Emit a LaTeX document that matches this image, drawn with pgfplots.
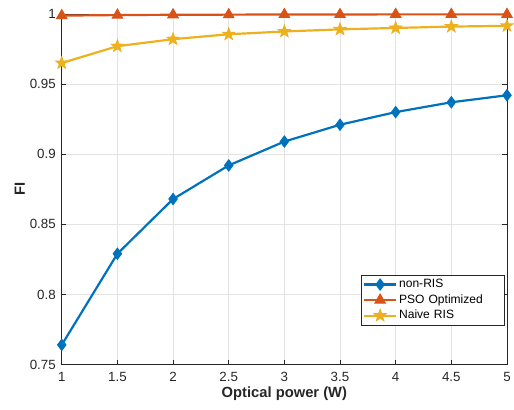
\documentclass[border=0pt]{standalone}
\usepackage{fontspec}
\setmainfont{Liberation Sans}
\usepackage{pgfplots}
\pgfplotsset{compat=1.18}
\definecolor{mblue}{rgb}{0,0.447,0.741}
\definecolor{morange}{rgb}{0.85,0.325,0.098}
\definecolor{myellow}{rgb}{0.929,0.694,0.125}
\definecolor{axgray}{rgb}{0.15,0.15,0.15}
\pgfdeclareplotmark{fstar}{%
  \pgfpathmoveto{\pgfqpointpolar{90}{\pgfplotmarksize}}%
  \pgfpathlineto{\pgfqpointpolar{126}{0.40\pgfplotmarksize}}%
  \pgfpathlineto{\pgfqpointpolar{162}{\pgfplotmarksize}}%
  \pgfpathlineto{\pgfqpointpolar{198}{0.40\pgfplotmarksize}}%
  \pgfpathlineto{\pgfqpointpolar{234}{\pgfplotmarksize}}%
  \pgfpathlineto{\pgfqpointpolar{270}{0.40\pgfplotmarksize}}%
  \pgfpathlineto{\pgfqpointpolar{306}{\pgfplotmarksize}}%
  \pgfpathlineto{\pgfqpointpolar{342}{0.40\pgfplotmarksize}}%
  \pgfpathlineto{\pgfqpointpolar{18}{\pgfplotmarksize}}%
  \pgfpathlineto{\pgfqpointpolar{54}{0.40\pgfplotmarksize}}%
  \pgfpathclose
  \pgfusepathqfillstroke}
\begin{document}
\begin{tikzpicture}
\begin{axis}[
  scale only axis,
  width=447pt, height=352pt,
  xmin=1, xmax=5, ymin=0.75, ymax=1,
  xtick={1,1.5,...,5},
  ytick={0.75,0.8,0.85,0.9,0.95,1},
  yticklabels={0.75,0.8,0.85,0.9,0.95,1},
  xticklabels={1,1.5,2,2.5,3,3.5,4,4.5,5},
  tick align=inside,
  grid=major,
  grid style={color=gray!22, line width=0.6pt},
  axis line style={color=axgray, line width=0.6pt},
  tick style={color=axgray, line width=0.6pt},
  major tick length=4.5pt,
  tick label style={font=\fontsize{13.4}{15}\selectfont, color=axgray},
  xticklabel style={yshift=-4pt},
  yticklabel style={xshift=-2.5pt},
  /pgf/number format/assume math mode=true,
  xlabel={\textbf{Optical power (W)}},
  ylabel={\textbf{FI}},
  label style={font=\fontsize{14.8}{17}\selectfont, color=axgray},
  xlabel style={yshift=2pt},
  ylabel style={yshift=-2pt},
  legend style={at={(0.9955,0.111)}, anchor=south east,
    draw=axgray, line width=0.5pt, inner xsep=2pt, inner ysep=2pt, row sep=0pt,
    nodes={font=\fontsize{12.1}{14}\selectfont, text height=9pt, text depth=2.6pt},
    /tikz/every even column/.append style={text width=102pt, align=left, inner xsep=2pt}},
  legend cell align=left,
  legend image code/.code={
    \draw[mark repeat=2,mark phase=2] plot coordinates {(0pt,0pt) (16pt,0pt) (32pt,0pt)};
  },
]
\addplot[color=mblue, line width=2.2pt, mark=diamond*, mark size=5.6pt, mark options={solid, fill=mblue, line width=1pt}]
 coordinates {(1,0.764) (1.5,0.829) (2,0.868) (2.5,0.892) (3,0.909) (3.5,0.921) (4,0.930) (4.5,0.937) (5,0.942)};
\addlegendentry{non-RIS}
\addplot[color=morange, line width=2.2pt, mark=triangle*, mark size=6pt, mark options={solid, fill=morange, line width=1pt}]
 coordinates {(1,0.9988) (1.5,0.9992) (2,0.9994) (2.5,0.9995) (3,0.9996) (3.5,0.9996) (4,0.9997) (4.5,0.9997) (5,0.9997)};
\addlegendentry{PSO Optimized}
\addplot[color=myellow, line width=2.2pt, mark=fstar, mark size=6.5pt, mark options={solid, fill=myellow, line width=0.8pt}]
 coordinates {(1,0.9650) (1.5,0.9770) (2,0.9820) (2.5,0.9855) (3,0.9875) (3.5,0.9890) (4,0.9900) (4.5,0.9910) (5,0.9915)};
\addlegendentry{Naive RIS}
\end{axis}
\path ([shift={(-62pt,-45pt)}]current axis.south west) rectangle ([shift={(5pt,14pt)}]current axis.north east);
\end{tikzpicture}
\end{document}
